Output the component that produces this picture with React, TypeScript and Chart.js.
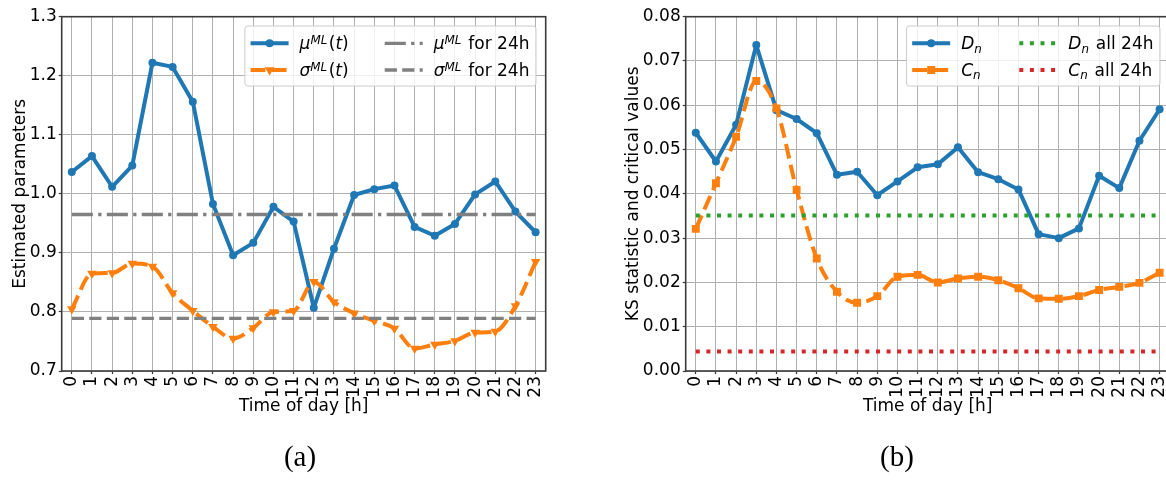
import React, { useEffect, useRef } from "react";
import { Chart, registerables } from "chart.js";

Chart.register(...registerables);

// ---- data -----------------------------------------------------------------

const HOURS = [
  "0", "1", "2", "3", "4", "5", "6", "7", "8", "9", "10", "11",
  "12", "13", "14", "15", "16", "17", "18", "19", "20", "21", "22", "23",
];

// (a) hourly maximum-likelihood estimates
const MU_HOURLY = [
  1.037, 1.064, 1.012, 1.048, 1.222, 1.215, 1.156, 0.983, 0.896, 0.917, 0.978, 0.953,
  0.807, 0.907, 0.998, 1.008, 1.014, 0.944, 0.929, 0.949, 0.999, 1.021, 0.970, 0.935,
];
const SIGMA_HOURLY = [
  0.805, 0.865, 0.866, 0.882, 0.877, 0.832, 0.802, 0.775, 0.755, 0.773, 0.800, 0.802,
  0.851, 0.817, 0.798, 0.785, 0.772, 0.738, 0.745, 0.751, 0.765, 0.767, 0.810, 0.885,
];
const MU_24H = 0.965;
const SIGMA_24H = 0.789;
const PARAM_TICKS = [0.7, 0.8, 0.9, 1.0, 1.1, 1.2, 1.3];

// (b) KS statistic and critical values
const D_HOURLY = [
  0.0538, 0.0473, 0.0556, 0.0736, 0.0589, 0.0569, 0.0537, 0.0443, 0.0450, 0.0397, 0.0428, 0.0460,
  0.0467, 0.0505, 0.0449, 0.0433, 0.0410, 0.0309, 0.0300, 0.0322, 0.0441, 0.0413, 0.0520, 0.0591,
];
const C_HOURLY = [
  0.0321, 0.0424, 0.0529, 0.0655, 0.0593, 0.0409, 0.0254, 0.0179, 0.0154, 0.0169, 0.0213, 0.0217,
  0.0200, 0.0209, 0.0213, 0.0205, 0.0187, 0.0164, 0.0163, 0.0169, 0.0183, 0.0190, 0.0199, 0.0222,
];
const D_24H = 0.0351;
const C_24H = 0.0044;
const KS_TICKS = [0.0, 0.01, 0.02, 0.03, 0.04, 0.05, 0.06, 0.07, 0.08];

// ---- styling --------------------------------------------------------------

const FONT = '"DejaVu Sans", sans-serif';
const FS = 17;
const BLUE = "#1f77b4";
const ORANGE = "#ff7f0e";
const GREEN = "#2ca02c";
const RED = "#d62728";
const GRAY = "#808080";
const GRID = "#b0b0b0";
const SPINE = "#3a3a3a";

const LW = 4;
const LW_REF = 3.3;
const DASHED = [3.7 * LW, 1.6 * LW];
const REF_DASHED = [3.7 * LW_REF, 1.6 * LW_REF];
const REF_DASHDOT = [6.4 * LW_REF, 1.6 * LW_REF, 1 * LW_REF, 1.6 * LW_REF];
const DOTTED = [1 * LW, 1.65 * LW];

const PAGE_W = 1166;
const PAGE_H = 481;

// ---- math-style legend ----------------------------------------------------

type Run = { t: string; it?: boolean; sup?: boolean; sub?: boolean };
type Marker = "circle" | "triangleDown" | "square" | null;
type LegendEntry = { runs: Run[]; color: string; width: number; dash: number[]; marker: Marker };

const SCRIPT_SPACE = 1.5;

function runFont(r: Run) {
  const size = r.sup || r.sub ? FS * 0.7 : FS;
  return `${r.it ? "italic " : ""}${size}px ${FONT}`;
}

function runAdvance(ctx: CanvasRenderingContext2D, r: Run) {
  ctx.font = runFont(r);
  return ctx.measureText(r.t).width + (r.sup || r.sub ? SCRIPT_SPACE : 0);
}

function runsWidth(ctx: CanvasRenderingContext2D, runs: Run[]) {
  return runs.reduce((w, r) => w + runAdvance(ctx, r), 0);
}

function drawRuns(ctx: CanvasRenderingContext2D, runs: Run[], x: number, baseline: number) {
  let cx = x;
  ctx.textAlign = "left";
  ctx.textBaseline = "alphabetic";
  ctx.fillStyle = "#000";
  for (const r of runs) {
    ctx.font = runFont(r);
    const dy = r.sup ? -FS * 0.32 : r.sub ? FS * 0.2 : 0;
    ctx.fillText(r.t, cx, baseline + dy);
    cx += runAdvance(ctx, r);
  }
}

function drawMarker(ctx: CanvasRenderingContext2D, m: Marker, x: number, y: number, color: string) {
  if (!m) return;
  ctx.fillStyle = color;
  ctx.beginPath();
  if (m === "circle") {
    ctx.arc(x, y, 4, 0, Math.PI * 2);
  } else if (m === "triangleDown") {
    const r = 5.5;
    ctx.moveTo(x, y + r);
    ctx.lineTo(x - r * Math.cos(Math.PI / 6), y - r / 2);
    ctx.lineTo(x + r * Math.cos(Math.PI / 6), y - r / 2);
    ctx.closePath();
  } else {
    ctx.rect(x - 4, y - 4, 8, 8);
  }
  ctx.fill();
}

function legendPlugin(entries: LegendEntry[]) {
  return {
    id: "mathLegend",
    afterDraw(chart: Chart) {
      const { ctx, chartArea: a } = chart;
      const col1 = entries.slice(0, 2);
      const col2 = entries.slice(2);
      ctx.save();
      const w1 = Math.max(...col1.map((e) => runsWidth(ctx, e.runs)));
      const w2 = Math.max(...col2.map((e) => runsWidth(ctx, e.runs)));
      const PAD_L = 5.7;
      const HANDLE = 38;
      const GAP = 11;
      const COLSP = 36;
      const PAD_R = 6.5;
      const boxW = PAD_L + HANDLE + GAP + w1 + COLSP + HANDLE + GAP + w2 + PAD_R;
      const boxH = 60;
      const bx = a.right - 9.7 - boxW;
      const by = a.top + 9.3;

      ctx.beginPath();
      ctx.roundRect(bx, by, boxW, boxH, 3);
      ctx.fillStyle = "rgba(255,255,255,0.8)";
      ctx.fill();
      ctx.lineWidth = 1;
      ctx.strokeStyle = "#cccccc";
      ctx.stroke();

      const rowY = [by + 17.3, by + 44];
      [col1, col2].forEach((col, ci) => {
        const hx = bx + PAD_L + (ci ? HANDLE + GAP + w1 + COLSP : 0);
        col.forEach((e, ri) => {
          const y = rowY[ri];
          ctx.beginPath();
          ctx.setLineDash(e.dash);
          ctx.lineWidth = e.width;
          ctx.lineCap = "butt";
          ctx.strokeStyle = e.color;
          ctx.moveTo(hx, y);
          ctx.lineTo(hx + HANDLE, y);
          ctx.stroke();
          ctx.setLineDash([]);
          drawMarker(ctx, e.marker, hx + HANDLE / 2, y, e.color);
          drawRuns(ctx, e.runs, hx + HANDLE + GAP, y + 6);
        });
      });
      ctx.restore();
    },
  };
}

// axis frame drawn over the data lines
const spinePlugin = {
  id: "spines",
  afterDatasetsDraw(chart: Chart) {
    const { ctx, chartArea: a } = chart;
    ctx.save();
    ctx.strokeStyle = SPINE;
    ctx.lineWidth = 1.6;
    ctx.strokeRect(a.left, a.top, a.right - a.left, a.bottom - a.top);
    ctx.restore();
  },
};

// ---- panel ----------------------------------------------------------------

type PanelProps = {
  left: number; // canvas position on the page
  width: number; // canvas width
  area: { left: number; top: number; right: number; bottom: number }; // plot area, page coords
  yTitle: string;
  yTitleX: number; // centre of the rotated y title, page coords
  yTicks: number[];
  yDecimals: number;
  datasets: any[];
  legend: LegendEntry[];
};

function Panel(p: PanelProps) {
  const ref = useRef<HTMLCanvasElement>(null);

  useEffect(() => {
    const canvas = ref.current;
    if (!canvas) return;
    const yWidth = p.area.left - p.left;
    const xHeight = PAGE_H - p.area.bottom;
    const tickFont = { family: FONT, size: FS };
    const lineHeight = FS * 1.2;

    const chart = new Chart(canvas, {
      type: "line",
      data: { labels: HOURS, datasets: p.datasets },
      options: {
        responsive: false,
        animation: false,
        devicePixelRatio: 1,
        layout: {
          padding: { top: p.area.top, right: p.left + p.width - p.area.right, left: 0, bottom: 0 },
        },
        plugins: {
          legend: { display: false },
          tooltip: { enabled: false },
        },
        elements: { line: { borderJoinStyle: "round" } },
        scales: {
          x: {
            type: "category",
            offset: true,
            grid: {
              offset: false,
              color: GRID,
              lineWidth: 1,
              drawTicks: true,
              tickLength: 3,
              tickColor: SPINE,
              tickWidth: 1.2,
            },
            border: { display: false },
            ticks: {
              autoSkip: false,
              minRotation: 90,
              maxRotation: 90,
              padding: 2,
              color: "#000",
              font: tickFont,
            },
            title: {
              display: true,
              text: "Time of day [h]",
              color: "#000",
              font: tickFont,
              padding: { top: 0, bottom: PAGE_H - 407 - lineHeight / 2 },
            },
            afterFit(scale: any) {
              scale.height = xHeight;
            },
          },
          y: {
            type: "linear",
            min: p.yTicks[0],
            max: p.yTicks[p.yTicks.length - 1],
            grid: {
              color: GRID,
              lineWidth: 1,
              drawTicks: true,
              tickLength: 3,
              tickColor: SPINE,
              tickWidth: 1.2,
            },
            border: { display: false },
            afterBuildTicks(scale: any) {
              scale.ticks = p.yTicks.map((v) => ({ value: v }));
            },
            ticks: {
              padding: 2,
              color: "#000",
              font: tickFont,
              callback: (v: any) => Number(v).toFixed(p.yDecimals),
            },
            title: {
              display: true,
              text: p.yTitle,
              color: "#000",
              font: tickFont,
              padding: { top: p.yTitleX - p.left - lineHeight / 2, bottom: 0 },
            },
            afterFit(scale: any) {
              scale.width = yWidth;
            },
          },
        },
      },
      plugins: [spinePlugin, legendPlugin(p.legend)],
    });
    return () => chart.destroy();
  }, []);

  return (
    <canvas
      ref={ref}
      width={p.width}
      height={PAGE_H}
      style={{ position: "absolute", left: p.left, top: 0, width: p.width, height: PAGE_H }}
    />
  );
}

// ---- datasets -------------------------------------------------------------

const first = HOURS[0];
const last = HOURS[HOURS.length - 1];

const paramDatasets = [
  {
    data: MU_HOURLY,
    borderColor: BLUE,
    backgroundColor: BLUE,
    borderWidth: LW,
    pointStyle: "circle",
    pointRadius: 4,
    pointBorderWidth: 0,
    pointBackgroundColor: BLUE,
    order: 3,
  },
  {
    data: SIGMA_HOURLY,
    borderColor: ORANGE,
    backgroundColor: ORANGE,
    borderWidth: LW,
    borderDash: DASHED,
    cubicInterpolationMode: "monotone",
    pointStyle: "triangle",
    pointRotation: 180,
    pointRadius: 5.5,
    pointBorderWidth: 0,
    pointBackgroundColor: ORANGE,
    order: 2,
  },
  {
    data: [{ x: first, y: MU_24H }, { x: last, y: MU_24H }],
    borderColor: GRAY,
    borderWidth: LW_REF,
    borderDash: REF_DASHDOT,
    pointRadius: 0,
    order: 1,
  },
  {
    data: [{ x: first, y: SIGMA_24H }, { x: last, y: SIGMA_24H }],
    borderColor: GRAY,
    borderWidth: LW_REF,
    borderDash: REF_DASHED,
    pointRadius: 0,
    order: 0,
  },
];

const ksDatasets = [
  {
    data: D_HOURLY,
    borderColor: BLUE,
    backgroundColor: BLUE,
    borderWidth: LW,
    pointStyle: "circle",
    pointRadius: 4,
    pointBorderWidth: 0,
    pointBackgroundColor: BLUE,
    order: 3,
  },
  {
    data: C_HOURLY,
    borderColor: ORANGE,
    backgroundColor: ORANGE,
    borderWidth: LW,
    borderDash: DASHED,
    cubicInterpolationMode: "monotone",
    pointStyle: "rect",
    pointRadius: 5.6,
    pointBorderWidth: 0,
    pointBackgroundColor: ORANGE,
    order: 2,
  },
  {
    data: [{ x: first, y: D_24H }, { x: last, y: D_24H }],
    borderColor: GREEN,
    borderWidth: LW,
    borderDash: DOTTED,
    pointRadius: 0,
    order: 1,
  },
  {
    data: [{ x: first, y: C_24H }, { x: last, y: C_24H }],
    borderColor: RED,
    borderWidth: LW,
    borderDash: DOTTED,
    pointRadius: 0,
    order: 0,
  },
];

const paramLegend: LegendEntry[] = [
  {
    runs: [{ t: "μ", it: true }, { t: "ML", it: true, sup: true }, { t: "(" }, { t: "t", it: true }, { t: ")" }],
    color: BLUE, width: LW, dash: [], marker: "circle",
  },
  {
    runs: [{ t: "σ", it: true }, { t: "ML", it: true, sup: true }, { t: "(" }, { t: "t", it: true }, { t: ")" }],
    color: ORANGE, width: LW, dash: DASHED, marker: "triangleDown",
  },
  {
    runs: [{ t: "μ", it: true }, { t: "ML", it: true, sup: true }, { t: " for 24h" }],
    color: GRAY, width: LW_REF, dash: REF_DASHDOT, marker: null,
  },
  {
    runs: [{ t: "σ", it: true }, { t: "ML", it: true, sup: true }, { t: " for 24h" }],
    color: GRAY, width: LW_REF, dash: REF_DASHED, marker: null,
  },
];

const ksLegend: LegendEntry[] = [
  { runs: [{ t: "D", it: true }, { t: "n", it: true, sub: true }], color: BLUE, width: LW, dash: [], marker: "circle" },
  { runs: [{ t: "C", it: true }, { t: "n", it: true, sub: true }], color: ORANGE, width: LW, dash: DASHED, marker: "square" },
  {
    runs: [{ t: "D", it: true }, { t: "n", it: true, sub: true }, { t: " all 24h" }],
    color: GREEN, width: LW, dash: DOTTED, marker: null,
  },
  {
    runs: [{ t: "C", it: true }, { t: "n", it: true, sub: true }, { t: " all 24h" }],
    color: RED, width: LW, dash: DOTTED, marker: null,
  },
];

const captionStyle: React.CSSProperties = {
  position: "absolute",
  top: 439,
  width: 100,
  height: 34,
  textAlign: "center",
  fontFamily: '"Liberation Serif", serif',
  fontSize: 29,
  lineHeight: "34px",
  color: "#000",
};

export default function App() {
  return (
    <div
      style={{
        position: "fixed",
        left: 0,
        top: 0,
        width: PAGE_W,
        height: PAGE_H,
        overflow: "hidden",
        background: "#fff",
      }}
    >
      <Panel
        left={0}
        width={583}
        area={{ left: 61.7, top: 16.7, right: 545.7, bottom: 371 }}
        yTitle="Estimated parameters"
        yTitleX={20.8}
        yTicks={PARAM_TICKS}
        yDecimals={1}
        datasets={paramDatasets}
        legend={paramLegend}
      />
      <Panel
        left={583}
        width={600}
        area={{ left: 685.7, top: 16.7, right: 1169.7, bottom: 371 }}
        yTitle="KS statistic and critical values"
        yTitleX={634}
        yTicks={KS_TICKS}
        yDecimals={2}
        datasets={ksDatasets}
        legend={ksLegend}
      />
      <div style={{ ...captionStyle, left: 300 - 50 }}>(a)</div>
      <div style={{ ...captionStyle, left: 897 - 50 }}>(b)</div>
    </div>
  );
}
